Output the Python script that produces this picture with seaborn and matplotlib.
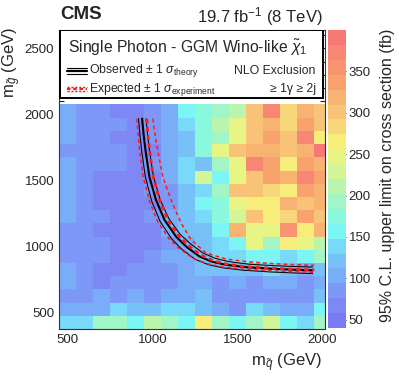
import numpy as np
import pandas as pd
import matplotlib
matplotlib.use('Agg')
import matplotlib.pyplot as plt
from matplotlib.colors import LinearSegmentedColormap
from matplotlib.patches import Rectangle
import seaborn as sns

# bin centres (GeV)
m_squark = [500, 600, 700, 800, 900, 1000, 1100, 1200, 1300, 1400, 1500, 1600, 1700, 1800, 1900, 2000]
m_gluino = [2025, 1925, 1825, 1725, 1625, 1525, 1425, 1325, 1225, 1125, 1025, 925, 825, 725, 625, 525, 425]

# 95% CL upper limit (fb), rows from top (high gluino mass) to bottom
limit_fb = [
    [108, 85, 92, 67, 67, 85, 108, 148, 170, 190, 215, 298, 368, 290, 320, 305],
    [100, 85, 85, 85, 67, 85, 100, 130, 172, 215, 255, 298, 315, 290, 335, 305],
    [100, 85, 85, 60, 67, 76, 100, 122, 175, 195, 255, 298, 330, 298, 378, 262],
    [76, 85, 85, 92, 67, 67, 100, 122, 175, 255, 298, 315, 315, 298, 315, 390],
    [100, 85, 85, 85, 67, 76, 108, 135, 120, 190, 255, 368, 335, 270, 335, 320],
    [100, 85, 67, 67, 67, 67, 100, 142, 220, 150, 238, 298, 335, 315, 375, 345],
    [100, 85, 67, 60, 60, 76, 92, 122, 130, 195, 298, 298, 288, 270, 335, 320],
    [100, 76, 67, 60, 60, 67, 92, 115, 150, 180, 238, 270, 258, 315, 305, 315],
    [100, 76, 76, 60, 60, 76, 108, 122, 130, 170, 220, 298, 258, 275, 335, 300],
    [92, 76, 60, 60, 60, 67, 100, 115, 122, 150, 320, 238, 255, 362, 268, 315],
    [92, 76, 76, 60, 60, 67, 92, 108, 122, 135, 150, 238, 190, 258, 238, 205],
    [92, 85, 76, 60, 60, 85, 100, 100, 115, 130, 142, 150, 150, 130, 158, 200],
    [100, 76, 60, 60, 76, 85, 92, 108, 115, 115, 122, 122, 130, 115, 108, 122],
    [100, 85, 60, 76, 92, 76, 85, 108, 100, 92, 100, 92, 100, 100, 85, 108],
    [76, 76, 100, 76, 100, 92, 100, 108, 115, 92, 92, 85, 85, 92, 92, 122],
    [108, 108, 100, 135, 122, 115, 130, 135, 115, 100, 92, 135, 115, 100, 100, 148],
    [135, 142, 190, 190, 150, 215, 190, 158, 260, 190, 158, 190, 225, 150, 142, 190],
]

# exclusion contours (m_squark, m_gluino)
obs_x = [939, 948, 959, 982, 1021, 1071, 1139, 1198, 1276, 1350, 1433, 1550, 1708, 1850, 1943]
obs_y = [1968, 1850, 1729, 1528, 1352, 1201, 1075, 1000, 925, 885, 861, 843, 831, 823, 819]
obs_up_x = [963, 971, 982, 1006, 1046, 1097, 1163, 1222, 1298, 1370, 1450, 1565, 1720, 1860, 1943]
obs_up_y = [1968, 1850, 1729, 1528, 1352, 1210, 1092, 1022, 950, 910, 885, 866, 854, 847, 844]
obs_dn_x = [918, 926, 936, 958, 996, 1045, 1113, 1172, 1252, 1330, 1415, 1535, 1695, 1840, 1943]
obs_dn_y = [1968, 1850, 1729, 1528, 1342, 1190, 1058, 980, 902, 862, 838, 820, 807, 799, 795]
exp_x = [967, 973, 983, 1005, 1042, 1090, 1152, 1208, 1284, 1356, 1437, 1552, 1710, 1850, 1953]
exp_y = [1965, 1850, 1729, 1528, 1352, 1205, 1082, 1010, 935, 893, 866, 846, 834, 826, 822]
exp_dn_x = [908, 915, 924, 945, 982, 1030, 1098, 1158, 1240, 1320, 1410, 1530, 1690, 1840, 1953]
exp_dn_y = [1968, 1850, 1729, 1528, 1345, 1190, 1058, 985, 910, 870, 845, 828, 815, 808, 805]
exp_up_x = [1002, 1015, 1031, 1061, 1110, 1169, 1228, 1316, 1433, 1560, 1708, 1850, 1953]
exp_up_y = [1968, 1850, 1729, 1528, 1352, 1176, 1050, 950, 905, 884, 870, 861, 857]

sns.set_style('ticks')
plt.rcParams['font.family'] = ['Liberation Sans', 'DejaVu Sans']
plt.rcParams['mathtext.fontset'] = 'custom'
plt.rcParams['mathtext.rm'] = 'Liberation Sans'
plt.rcParams['mathtext.it'] = 'Liberation Sans:italic'

palette = LinearSegmentedColormap.from_list('root_pastel', [
    (0.0, '#7a7af5'), (0.083, '#7f90f5'), (0.167, '#78b0f8'), (0.25, '#78d0f8'),
    (0.306, '#7af5f8'), (0.361, '#85f8e0'), (0.417, '#a0f5c8'), (0.5, '#c8f5a0'),
    (0.611, '#f5f57a'), (0.722, '#f8c878'), (0.833, '#f8a46c'), (1.0, '#f87878'),
]).resampled(20)

df = pd.DataFrame(limit_fb, index=m_gluino, columns=m_squark)

fig = plt.figure(figsize=(3.99, 3.83), dpi=100)
ax = fig.add_axes([0.148, 0.141, 0.666, 0.781])
cax = fig.add_axes([0.821, 0.1436, 0.046, 0.778])

sns.heatmap(df, ax=ax, cmap=palette, vmin=40, vmax=400, cbar_ax=cax,
            xticklabels=False, yticklabels=False, linewidths=0)

# heatmap index coordinates <-> GeV
def to_ix(v):
    return (np.asarray(v) - 450) / 100.0

def to_iy(v):
    return (2075 - np.asarray(v)) / 100.0

ax.set_xlim(to_ix(450), to_ix(2015))
ax.set_ylim(to_iy(375), to_iy(2640))

ax.set_xticks(to_ix([500, 1000, 1500, 2000]))
ax.set_xticklabels(['500', '1000', '1500', '2000'])
ax.set_xticks(to_ix(np.arange(500, 2001, 100)), minor=True)
ax.set_yticks(to_iy([500, 1000, 1500, 2000, 2500]))
ax.set_yticklabels(['500', '1000', '1500', '2000', '2500'])
ax.set_yticks(to_iy(np.arange(400, 2601, 100)), minor=True)
ax.tick_params(which='both', direction='in', top=True, right=True, labelsize=9.5, width=0.8, color='#222222')
ax.tick_params(which='major', length=7)
ax.tick_params(which='minor', length=3.5)
for s in ax.spines.values():
    s.set_visible(True)
    s.set_linewidth(0.8)
    s.set_color('#333333')

# contours
ax.plot(to_ix(obs_up_x), to_iy(obs_up_y), color='black', lw=0.75)
ax.plot(to_ix(obs_dn_x), to_iy(obs_dn_y), color='black', lw=0.75)
ax.plot(to_ix(obs_x), to_iy(obs_y), color='black', lw=1.5)
ax.plot(to_ix(exp_up_x), to_iy(exp_up_y), color='#ff1a1a', lw=1.1, dashes=(2.5, 2))
ax.plot(to_ix(exp_dn_x), to_iy(exp_dn_y), color='#ff1a1a', lw=1.1, dashes=(2.5, 2))
ax.plot(to_ix(exp_x), to_iy(exp_y), color='#ff1a1a', lw=2.0, dashes=(1.6, 1.3))

# legend box
ax.add_patch(Rectangle((0.004, 0.7726), 0.988, 0.2274, transform=ax.transAxes,
                       facecolor='white', edgecolor='black', lw=1.4, zorder=5))
ax.text(0.034, 0.94, r'Single Photon - GGM Wino-like $\tilde{\chi}_1$', transform=ax.transAxes,
        fontsize=11.3, ha='left', va='center', zorder=6)
for yy, lw in [(0.873, 0.8), (0.863, 1.6), (0.853, 0.8)]:
    ax.plot([0.03, 0.105], [yy, yy], transform=ax.transAxes, color='black', lw=lw, zorder=6)
for yy, lw in [(0.810, 1.0), (0.802, 1.6), (0.794, 1.0)]:
    ax.plot([0.03, 0.105], [yy, yy], transform=ax.transAxes, color='#ff1a1a', lw=lw,
            dashes=(1.6, 1.2), zorder=6)
ax.text(0.113, 0.863, r'Observed $\pm$ 1 $\sigma_{\rm theory}$', transform=ax.transAxes,
        fontsize=8.8, ha='left', va='center', zorder=6)
ax.text(0.113, 0.802, r'Expected $\pm$ 1 $\sigma_{\rm experiment}$', transform=ax.transAxes,
        fontsize=8.8, ha='left', va='center', zorder=6)
ax.text(0.966, 0.863, 'NLO Exclusion', transform=ax.transAxes,
        fontsize=8.8, ha='right', va='center', zorder=6)
ax.text(0.966, 0.802, '≥ 1γ ≥ 2j', transform=ax.transAxes,
        fontsize=8.8, ha='right', va='center', zorder=6)

# colorbar
cbar = ax.collections[0].colorbar
cbar.set_ticks([50, 100, 150, 200, 250, 300, 350])
cbar.ax.tick_params(direction='in', length=5, width=0.8, color='#333333', labelsize=9.5, pad=2)
cbar.outline.set_visible(False)

fig.text(0.15, 0.961, 'CMS', fontsize=13.5, fontweight='bold', ha='left', va='center')
fig.text(0.81, 0.958, r'19.7 fb$^{-1}$ (8 TeV)', fontsize=12, ha='right', va='center')
fig.text(0.03, 0.93, r'm$_{\tilde{g}}$ (GeV)', fontsize=12, rotation=90, ha='center', va='top')
fig.text(0.807, 0.052, r'm$_{\tilde{q}}$ (GeV)', fontsize=12, ha='right', va='center')
fig.text(0.97, 0.925, '95% C.L. upper limit on cross section (fb)', fontsize=11.5,
         rotation=90, ha='center', va='top')

fig.savefig('out.png', dpi=100)
